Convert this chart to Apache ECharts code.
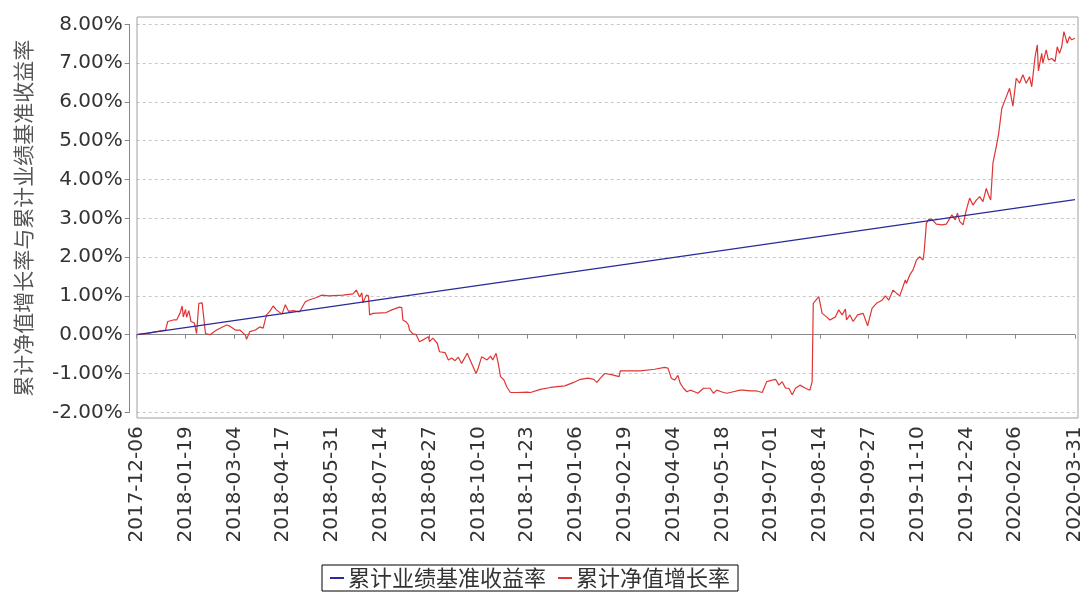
<!DOCTYPE html>
<html>
<head>
<meta charset="utf-8">
<script src="https://cdn.jsdelivr.net/npm/echarts@6/dist/echarts.min.js"></script>
<style>html,body{margin:0;padding:0;background:#fff}#c{width:1087px;height:597px}</style>
</head>
<body>
<div id="c"></div>
<script>
// X axis: calendar days from start to end
var startDate = '2017-12-06';
var endDate = '2020-03-31';
var tickLabels = ['2017-12-06','2018-01-19','2018-03-04','2018-04-17','2018-05-31','2018-07-14','2018-08-27','2018-10-10','2018-11-23','2019-01-06','2019-02-19','2019-04-04','2019-05-18','2019-07-01','2019-08-14','2019-09-27','2019-11-10','2019-12-24','2020-02-06','2020-03-31'];
var seriesNames = ['累计业绩基准收益率','累计净值增长率'];
var yAxisName = '累计净值增长率与累计业绩基准收益率';

// Benchmark (days since start, %)
var benchDays = [0, 255, 535, 846];
var benchValues = [0.00, 1.05, 2.20, 3.48];

// Fund cumulative NAV growth (days since start, %)
var navDays = [0,9,18,26,28,33,36,39,41,42,44,45,47,49,52,54,56,59,60,62,66,72,81,84,89,93,98,99,102,107,111,114,117,120,123,126,131,134,137,141,147,152,156,162,167,173,
186,195,198,201,203,204,207,209,210,213,225,230,237,239,240,243,245,246,249,252,255,259,263,264,267,271,273,278,281,284,287,290,293,298,302,306,308,311,316,319,321,324,326,328,331,334,337,343,352,
355,364,373,386,394,400,407,412,415,418,422,428,435,436,442,454,467,476,479,482,485,488,490,493,496,499,503,506,511,517,520,523,527,532,538,544,
547,553,559,564,568,573,576,579,582,585,588,591,594,598,603,607,609,610,615,618,622,625,630,633,636,639,640,643,646,650,655,659,663,667,672,675,678,682,685,688,693,694,697,700,703,706,709,710,712,714,
717,721,726,730,735,738,740,742,745,748,751,754,757,760,763,766,768,770,772,775,777,780,784,787,790,793,796,799,802,805,807,810,812,813,816,817,820,822,825,828,830,832,834,836,839,841,843,846];
var navValues = [0.00,0.03,0.08,0.12,0.34,0.38,0.38,0.55,0.74,0.46,0.65,0.45,0.62,0.34,0.30,0.03,0.81,0.82,0.78,0.03,0.00,0.12,0.25,0.22,0.12,0.12,-0.01,-0.12,0.08,0.12,0.20,0.17,0.51,0.60,0.74,0.64,0.53,0.77,0.60,0.62,0.59,0.85,0.90,0.96,1.02,1.00,
1.02,1.05,1.15,0.97,1.08,0.82,1.02,1.00,0.51,0.55,0.57,0.64,0.71,0.70,0.38,0.33,0.25,0.12,0.02,0.00,-0.18,-0.12,-0.05,-0.18,-0.09,-0.22,-0.44,-0.46,-0.65,-0.60,-0.67,-0.58,-0.74,-0.48,-0.74,-1.00,-0.85,-0.57,-0.65,-0.55,-0.65,-0.48,-0.74,-1.08,-1.16,-1.36,-1.49,-1.49,-1.48,
-1.49,-1.41,-1.36,-1.32,-1.23,-1.15,-1.12,-1.15,-1.23,-1.12,-1.00,-1.03,-1.08,-0.93,-0.93,-0.93,-0.89,-0.84,-0.86,-1.12,-1.17,-1.05,-1.25,-1.38,-1.47,-1.43,-1.47,-1.51,-1.38,-1.38,-1.51,-1.43,-1.47,-1.51,-1.47,-1.43,
-1.43,-1.45,-1.45,-1.49,-1.21,-1.17,-1.15,-1.30,-1.21,-1.38,-1.38,-1.55,-1.38,-1.30,-1.38,-1.43,-1.21,0.81,0.98,0.55,0.46,0.38,0.46,0.64,0.51,0.66,0.38,0.51,0.34,0.51,0.55,0.23,0.68,0.81,0.89,1.00,0.89,1.15,1.07,1.00,1.41,1.32,1.54,1.67,1.92,2.01,1.92,2.14,2.87,2.97,
2.97,2.85,2.83,2.85,3.09,2.96,3.13,2.92,2.83,3.21,3.52,3.34,3.47,3.56,3.43,3.77,3.60,3.47,4.42,4.85,5.15,5.83,6.13,6.35,5.89,6.61,6.48,6.70,6.48,6.65,6.39,7.16,7.47,6.80,7.25,7.00,7.34,7.08,7.12,7.04,7.42,7.25,7.42,7.81,7.51,7.68,7.60,7.64];

function fmt(d){var m=d.getUTCMonth()+1,dd=d.getUTCDate();return d.getUTCFullYear()+'-'+(m<10?'0':'')+m+'-'+(dd<10?'0':'')+dd;}
var categories = [];
(function(){var d=new Date(startDate+'T00:00:00Z'),e=new Date(endDate+'T00:00:00Z');while(d<=e){categories.push(fmt(d));d=new Date(d.getTime()+86400000);}})();
function showTick(idx, val){ return tickLabels.indexOf(val) >= 0; }

var FONT = 'DejaVu Sans, Noto Sans CJK SC, sans-serif';
var chart = echarts.init(document.getElementById('c'));
chart.setOption({
  animation: false,
  backgroundColor: '#fff',
  textStyle: { fontFamily: FONT },
  grid: { left: 136.7, right: 12, top: 24.3, bottom: 184.7, containLabel: false },
  graphic: [{ type: 'rect', left: 134.5, top: 14.5, shape: { x: 0, y: 0, width: 941, height: 401 }, style: { fill: 'none', stroke: '#a0a0a0', lineWidth: 1 }, z: 100 }],
  legend: {
    left: 322, top: 565, padding: [1, 8, 1, 8], itemGap: 12, itemWidth: 14, itemHeight: 2,
    borderColor: '#000', borderWidth: 1, icon: 'rect',
    textStyle: { fontSize: 22, lineHeight: 24, color: '#333', fontFamily: 'Noto Sans CJK SC', padding: [0, 0, 0, -1] },
    data: seriesNames
  },
  xAxis: {
    type: 'category', data: categories, boundaryGap: false, offset: 8,
    axisLine: { lineStyle: { color: '#888' } },
    axisTick: { interval: showTick, length: 4, lineStyle: { color: '#888' } },
    axisLabel: { interval: showTick, rotate: 90, fontSize: 20, color: '#333', margin: 6, fontFamily: 'DejaVu Sans' },
    splitLine: { show: false }
  },
  yAxis: {
    type: 'value', min: -2, max: 8, interval: 1, offset: 7,
    name: yAxisName, nameLocation: 'middle', nameRotate: 90, nameGap: 96,
    nameTextStyle: { fontSize: 21, color: '#555', fontFamily: 'Noto Sans CJK SC' },
    axisLine: { show: true, lineStyle: { color: '#888' } },
    axisTick: { show: true, length: 5, lineStyle: { color: '#888' } },
    axisLabel: { fontSize: 20, color: '#333', margin: 7, fontFamily: 'DejaVu Sans', formatter: function(v){ return v.toFixed(2) + '%'; } },
    splitLine: { lineStyle: { color: '#c8c8c8', type: [3, 3] } }
  },
  series: [
    { name: seriesNames[0], type: 'line', showSymbol: false, color: '#2a2a9a', lineStyle: { width: 1.2, color: '#2a2a9a' },
      data: benchDays.map(function(d, i){ return [categories[d], benchValues[i]]; }), z: 3 },
    { name: seriesNames[1], type: 'line', showSymbol: false, color: '#e03535', lineStyle: { width: 1.2, color: '#e03535' },
      data: navDays.map(function(d, i){ return [categories[d], navValues[i]]; }), z: 2 }
  ]
});
</script>
</body>
</html>
